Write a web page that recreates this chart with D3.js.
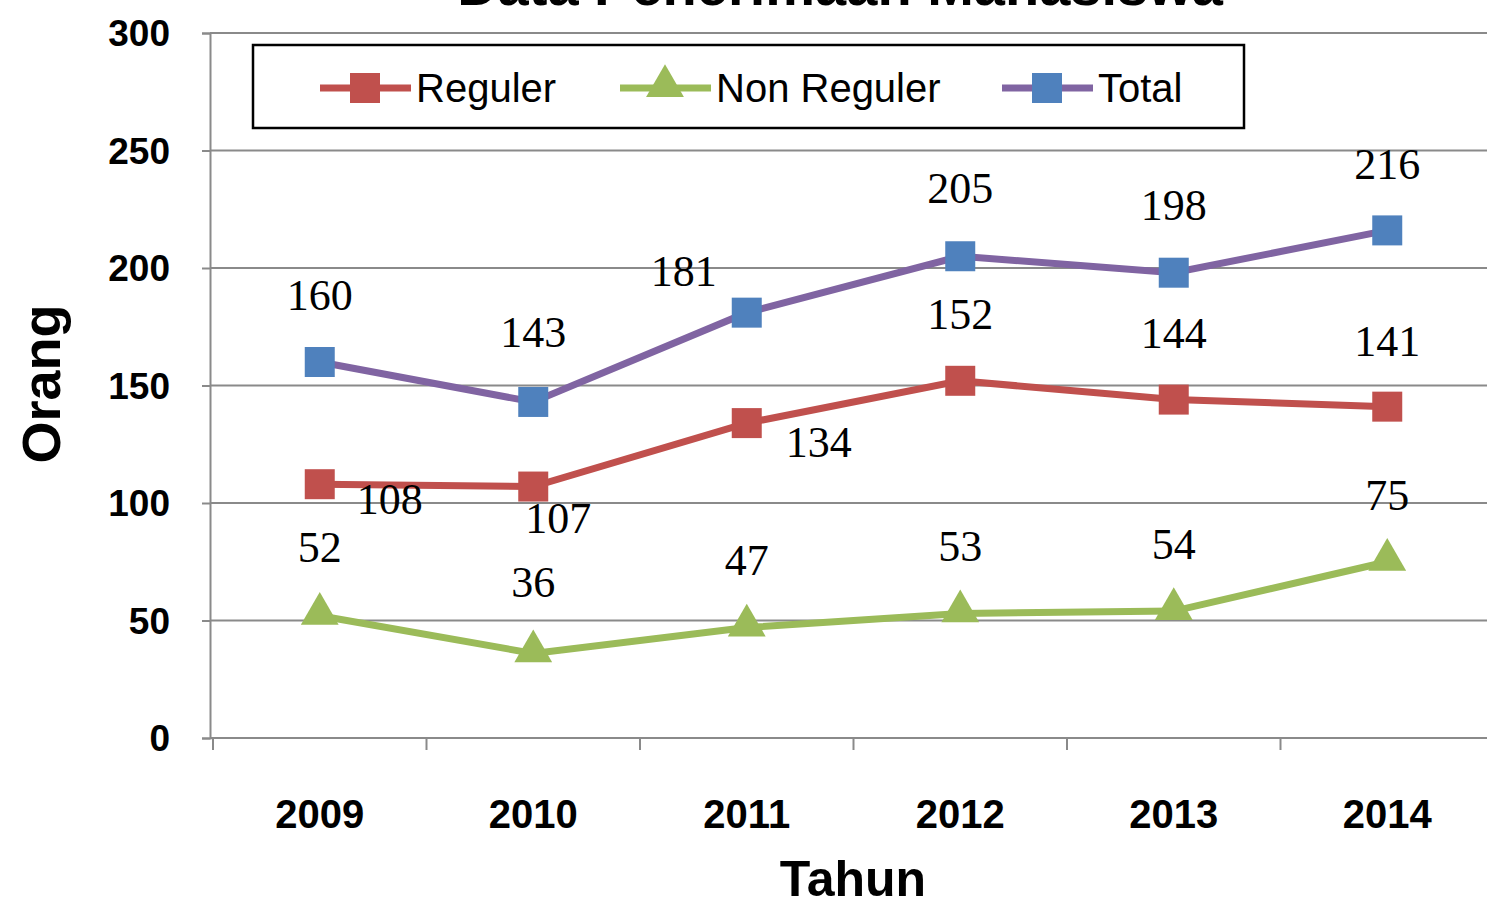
<!DOCTYPE html>
<html><head><meta charset="utf-8">
<script src="https://cdn.jsdelivr.net/npm/d3@7"></script>
<style>body{margin:0;background:#fff;overflow:hidden}svg{display:block}</style>
</head><body>
<script>
const years = ["2009","2010","2011","2012","2013","2014"];
const reguler = [108,107,134,152,144,141];
const nonReguler = [52,36,47,53,54,75];
const total = [160,143,181,205,198,216];
const yTicks = [0,50,100,150,200,250,300];
const title = "Data Penerimaan Mahasiswa";

// label offsets (dx, dy) relative to point, in px
const offReg = [[70,14],[25,31],[72,18],[0,-67],[0,-67],[0,-66]];
const offNon = [[0,-69],[0,-72],[0,-68],[0,-68],[0,-68],[0,-67]];
const offTot = [[0,-67],[0,-70],[-63,-42],[0,-69],[0,-68],[0,-67]];

const W=1487,H=906;
const svg=d3.select("body").append("svg").attr("width",W).attr("height",H);
const pLeft=213, pRight=1494, pTop=33, pBottom=738;
const x=d3.scaleBand().domain(years).range([pLeft,pRight]).padding(0);
const y=d3.scaleLinear().domain([0,300]).range([pBottom,pTop]);
const cx=d=>x(d)+x.bandwidth()/2;
const sansF="Liberation Sans Narrow, Liberation Sans, sans-serif";

// title (clipped at top, as in the original)
svg.append("text").attr("x",840).attr("y",5).attr("text-anchor","middle")
  .attr("font-family",sansF).attr("font-weight","bold")
  .attr("font-size",56).attr("fill","#000").text(title);

// gridlines
svg.append("g").selectAll("line").data(yTicks.filter(t=>t>0)).join("line")
  .attr("x1",pLeft-3).attr("x2",W).attr("y1",d=>y(d)).attr("y2",d=>y(d))
  .attr("stroke","#8a8a8a").attr("stroke-width",2);

// y axis
const yAxis=svg.append("g").attr("transform",`translate(${pLeft-3},0)`)
  .call(d3.axisLeft(y).tickValues(yTicks).tickSize(8).tickPadding(32));
yAxis.select(".domain").attr("stroke","#8a8a8a").attr("stroke-width",2);
yAxis.selectAll(".tick line").attr("stroke","#8a8a8a").attr("stroke-width",2);
yAxis.selectAll("text").attr("font-family",sansF)
  .attr("font-weight","bold").attr("font-size",37).attr("fill","#000").attr("dy","0.35em");

// x axis
const xAxis=svg.append("g").attr("transform",`translate(0,${pBottom})`)
  .call(d3.axisBottom(x).tickSize(0).tickPadding(62));
xAxis.select(".domain").attr("stroke","#8a8a8a").attr("stroke-width",2).attr("d",`M${pLeft-3},0H${W}`);
xAxis.selectAll("text").attr("font-family",sansF)
  .attr("font-weight","bold").attr("font-size",40).attr("fill","#000");
svg.append("g").selectAll("line").data(years).join("line")
  .attr("x1",d=>x(d)).attr("x2",d=>x(d)).attr("y1",pBottom).attr("y2",pBottom+12)
  .attr("stroke","#8a8a8a").attr("stroke-width",2);

// axis titles
svg.append("text").attr("transform",`translate(60,384) rotate(-90)`).attr("text-anchor","middle")
  .attr("font-family",sansF).attr("font-weight","bold")
  .attr("font-size",54).text("Orang");
svg.append("text").attr("x",853).attr("y",896).attr("text-anchor","middle")
  .attr("font-family",sansF).attr("font-weight","bold")
  .attr("font-size",50).text("Tahun");

const line=d3.line().x((d,i)=>cx(years[i])).y(d=>y(d));
const series=[
  {name:"Reguler",vals:reguler,line:"#C0504D",mark:"#C0504D",shape:"sq",off:offReg},
  {name:"Non Reguler",vals:nonReguler,line:"#9BBB59",mark:"#9BBB59",shape:"tri",off:offNon},
  {name:"Total",vals:total,line:"#8064A2",mark:"#4F81BD",shape:"sq",off:offTot}
];
const sym={sq:d3.symbol(d3.symbolSquare,900),tri:d3.symbol(d3.symbolTriangle,620)};

series.forEach(s=>{
  svg.append("path").datum(s.vals).attr("d",line).attr("fill","none")
    .attr("stroke",s.line).attr("stroke-width",7);
  svg.append("g").selectAll("path").data(s.vals).join("path")
    .attr("transform",(d,i)=>`translate(${cx(years[i])},${y(d)+(s.shape==="tri"?-2:0)})`)
    .attr("d",sym[s.shape]).attr("fill",s.mark);
  svg.append("g").selectAll("text").data(s.vals).join("text")
    .attr("x",(d,i)=>cx(years[i])+s.off[i][0]).attr("y",(d,i)=>y(d)+s.off[i][1])
    .attr("text-anchor","middle").attr("dy","0.35em")
    .attr("font-family","Liberation Serif, serif").attr("font-size",44).attr("fill","#000")
    .text(d=>d);
});

// legend
const lg=svg.append("g");
lg.append("rect").attr("x",253).attr("y",45).attr("width",991).attr("height",83)
  .attr("fill","#fff").attr("stroke","#000").attr("stroke-width",2.5);
const legX=[320,620,1002];
series.forEach((s,i)=>{
  const g=lg.append("g").attr("transform",`translate(${legX[i]},88)`);
  g.append("line").attr("x1",0).attr("x2",91).attr("stroke",s.line).attr("stroke-width",7);
  g.append("path").attr("d",sym[s.shape]).attr("transform",`translate(45,${s.shape==="tri"?-2:0})`).attr("fill",s.mark);
  g.append("text").attr("x",96).attr("dy","0.35em")
    .attr("font-family",sansF).attr("font-size",40)
    .text(s.name);
});
</script>
</body></html>
